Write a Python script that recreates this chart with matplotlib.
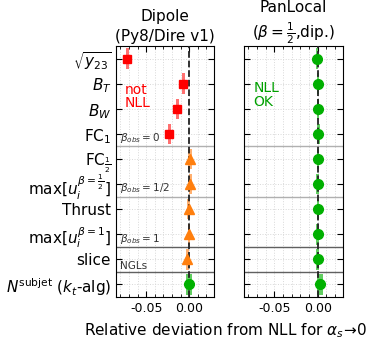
import matplotlib
matplotlib.use("Agg")
import matplotlib.pyplot as plt
from matplotlib.ticker import MultipleLocator
import numpy as np

OBSERVABLES = [r"$\sqrt{y_{23}}$", r"$B_T$", r"$B_W$", r"FC$_1$", r"FC$_{\frac{1}{2}}$",
               r"max$[u_i^{\beta=\frac{1}{2}}]$", "Thrust", r"max$[u_i^{\beta=1}]$",
               "slice", r"$N^{\rm subjet}$ ($k_t$-alg)"]

# Dipole (Py8/Dire v1): deviation and uncertainty per observable
DIPOLE_DEV = [-0.0717, -0.0070, -0.0136, -0.0233, 0.0010, 0.0012, -0.0005, -0.0003, -0.0023, 0.0000]
DIPOLE_ERR = [0.0018, 0.0018, 0.0018, 0.0018, 0.0018, 0.0018, 0.0018, 0.0016, 0.0018, 0.0035]
DIPOLE_KIND = ["sq", "sq", "sq", "sq", "tri", "tri", "tri", "tri", "tri", "dot"]

# PanLocal (beta=1/2, dip.)
PANLOCAL_DEV = [-0.0010, 0.0000, 0.0000, 0.0006, 0.0000, -0.0003, 0.0000, -0.0002, -0.0002, 0.0026]
PANLOCAL_ERR = [0.0016, 0.0014, 0.0014, 0.0014, 0.0014, 0.0014, 0.0014, 0.0014, 0.0014, 0.0030]

SEPARATORS = [(3.5, "#b0b0b0", r"$\beta_{obs}=0$"), (5.5, "#b0b0b0", r"$\beta_{obs}=1/2$"),
              (7.5, "#606060", r"$\beta_{obs}=1$"), (8.5, "#606060", "NGLs")]

# marker, colour, error colour, marker size
STYLE = {"sq": ("s", "#ff0000", "#ff6060", 6),
         "tri": ("^", "#ff7f0e", "#ffa860", 7),
         "dot": ("o", "#00b000", "#50c850", 7)}

XLIM = (-0.085, 0.029)


def draw_panel(ax, devs, errs, kinds, title, label_rows):
    y = np.arange(len(OBSERVABLES))
    for yi, dev, err, kind in zip(y, devs, errs, kinds):
        marker, col, light, ms = STYLE[kind]
        ax.barh(yi, 2 * err, left=dev - err, height=0.82, color=light, alpha=0.9,
                linewidth=0, zorder=2)
        ax.plot(dev, yi, marker=marker, color=col, ms=ms, zorder=4, ls="none")
    ax.axvline(0.0, color="#222222", ls="--", lw=1.3, zorder=3)
    for ypos, col, lab in SEPARATORS:
        ax.axhline(ypos, color=col, lw=1.0, zorder=1)
        if label_rows:
            ax.text(-0.0805, ypos - 0.05, lab, fontsize=7.5, color="#333333",
                    ha="left", va="bottom", zorder=5)
    ax.set_xlim(*XLIM)
    ax.set_ylim(len(OBSERVABLES) - 0.5, -0.5)
    ax.set_yticks(y)
    if label_rows:
        ax.set_yticklabels(OBSERVABLES, fontsize=11)
    else:
        ax.set_yticklabels([])
    ax.xaxis.set_minor_locator(MultipleLocator(0.01))
    ax.set_xticks([-0.05, 0.0])
    ax.set_xticklabels(["-0.05", "0.00"], fontsize=9)
    ax.tick_params(which="both", direction="in", top=True, right=True)
    ax.tick_params(which="major", length=4)
    ax.tick_params(which="minor", length=2)
    ax.grid(True, which="both", axis="x", color="#d8d8d8", ls=":", lw=0.7)
    ax.grid(True, which="major", axis="y", color="#d8d8d8", ls=":", lw=0.7)
    ax.set_axisbelow(True)
    ax.set_title(title, fontsize=11, pad=4, linespacing=1.35)


fig = plt.figure(figsize=(3.66, 3.39), dpi=100)
ax1 = fig.add_axes([0.317, 0.124, 0.268, 0.740])
ax2 = fig.add_axes([0.667, 0.124, 0.270, 0.740])

draw_panel(ax1, DIPOLE_DEV, DIPOLE_ERR, DIPOLE_KIND, "Dipole\n(Py8/Dire v1)", True)
draw_panel(ax2, PANLOCAL_DEV, PANLOCAL_ERR, ["dot"] * len(OBSERVABLES),
           "PanLocal\n" + r"($\beta=\frac{1}{2}$,dip.)", False)

ax1.text(-0.0745, 1.5, "not\nNLL", color="#ff0000", fontsize=10, ha="left", va="center",
         linespacing=0.95)
ax2.text(-0.0745, 1.45, "NLL\nOK", color="#00a000", fontsize=10, ha="left", va="center",
         linespacing=0.95)

fig.text(0.615, 0.026, r"Relative deviation from NLL for $\alpha_s\!\to\!0$",
         ha="center", va="center", fontsize=11)

fig.savefig("out.png", dpi=100)
